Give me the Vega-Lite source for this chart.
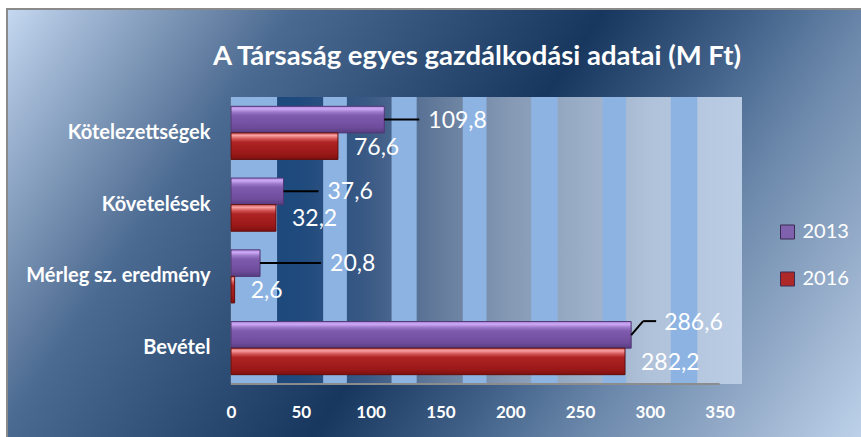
{
  "$schema": "https://vega.github.io/schema/vega-lite/v6.json",
  "width": 856,
  "height": 430,
  "autosize": {"type": "none"},
  "padding": {"left": 7, "top": 9, "right": 0, "bottom": 0},
  "background": "white",
  "config": {
    "locale": {"number": {"decimal": ",", "thousands": " ", "grouping": [3], "currency": ["", " Ft"]}},
    "axisX": {"domain": false, "ticks": false, "tickSize": 0, "grid": false, "labelPadding": 20, "labelFont": "Lato",
      "labelFontSize": 17, "labelFontWeight": "bold", "labelColor": "white", "labelFlush": false, "labelOverlap": false},
    "axisY": {"domain": true, "domainColor": "#8C8C8C", "domainWidth": 1.5, "ticks": false, "tickSize": 0, "grid": false,
      "labelPadding": 21, "labelFont": "Lato", "labelFontSize": 20, "labelFontWeight": "bold", "labelColor": "white", "labelLimit": 400}
  },
  "view": {
    "fill": {"gradient": "linear", "x1": 0, "y1": 0, "x2": 1.202, "y2": 0.414,
      "stops": [
        {"offset": 0, "color": "#C6D9F1"},
        {"offset": 0.054, "color": "#A8BEDA"},
        {"offset": 0.215, "color": "#5C789C"},
        {"offset": 0.25, "color": "#4A6A92"},
        {"offset": 0.52, "color": "#17375E"},
        {"offset": 0.644, "color": "#3F5F87"},
        {"offset": 0.75, "color": "#6A87AA"},
        {"offset": 0.857, "color": "#8EA6C4"},
        {"offset": 1, "color": "#BED2EA"}
      ]},
    "stroke": "#8A8A8A",
    "strokeWidth": 2
  },
  "title": {
    "text": "A Társaság egyes gazdálkodási adatai (M Ft)",
    "font": "Lato", "fontSize": 27.5, "fontWeight": "bold", "color": "white",
    "anchor": "middle", "frame": "group", "offset": -75, "dx": 42, "baseline": "middle"
  },
  "datasets": {
    "bars": [
      {"cat": "Kötelezettségek", "year": "2013", "v": 109.8},
      {"cat": "Kötelezettségek", "year": "2016", "v": 76.6},
      {"cat": "Követelések", "year": "2013", "v": 37.6},
      {"cat": "Követelések", "year": "2016", "v": 32.2},
      {"cat": "Mérleg sz. eredmény", "year": "2013", "v": 20.8},
      {"cat": "Mérleg sz. eredmény", "year": "2016", "v": 2.6},
      {"cat": "Bevétel", "year": "2013", "v": 286.6},
      {"cat": "Bevétel", "year": "2016", "v": 282.2}
    ],
    "stripes": [
      {"lo": 0, "hi": 33}, {"lo": 66, "hi": 83}, {"lo": 115, "hi": 133},
      {"lo": 166, "hi": 183}, {"lo": 215, "hi": 234}, {"lo": 266, "hi": 283},
      {"lo": 315, "hi": 334}
    ]
  },
  "layer": [
    {
      "layer": [
        {
          "data": {"values": [{"wall": "back"}]},
          "mark": {"type": "rect", "fill": {"gradient": "linear", "x1": 0, "y1": 0, "x2": 1, "y2": 0,
            "stops": [
              {"offset": 0, "color": "#1B467A"},
              {"offset": 0.135, "color": "#1F4A7D"},
              {"offset": 0.27, "color": "#3B5A85"},
              {"offset": 0.41, "color": "#657C9C"},
              {"offset": 0.545, "color": "#8599B5"},
              {"offset": 0.685, "color": "#9AADC6"},
              {"offset": 0.82, "color": "#B0C2D9"},
              {"offset": 1, "color": "#BACDE5"}
            ]}},
          "encoding": {
            "x": {"datum": 0, "type": "quantitative", "title": null,
              "scale": {"domain": [0, 366], "range": [224, 735], "nice": false, "zero": false},
              "axis": {"orient": "bottom", "offset": -55, "values": [0, 50, 100, 150, 200, 250, 300, 350], "title": null, "labelFlush": false}},
            "x2": {"datum": 366},
            "y": {"datum": 0, "type": "quantitative", "scale": {"domain": [0, 1], "range": [375, 88], "nice": false, "zero": false}, "axis": null},
            "y2": {"datum": 1}
          }
        },
        {
          "data": {"name": "stripes"},
          "mark": {"type": "rect", "fill": "#8DB3E2"},
          "encoding": {
            "x": {"field": "lo", "type": "quantitative", "title": null},
            "x2": {"field": "hi"},
            "y": {"datum": 0, "type": "quantitative", "axis": null},
            "y2": {"datum": 1}
          }
        },
        {
          "data": {"values": [{"wall": "floor"}]},
          "mark": {"type": "rule", "stroke": "#8C8C8C", "strokeWidth": 2},
          "encoding": {
            "x": {"datum": 0, "type": "quantitative", "title": null},
            "x2": {"datum": 350},
            "y": {"datum": 0, "type": "quantitative", "axis": null}
          }
        }
      ]
    },
    {
      "data": {"name": "bars"},
      "encoding": {
        "x": {"field": "v", "type": "quantitative", "title": null},
        "y": {"field": "cat", "type": "nominal",
          "sort": ["Kötelezettségek", "Követelések", "Mérleg sz. eredmény", "Bevétel"],
          "scale": {"range": [88, 375], "paddingInner": 0.26, "paddingOuter": 0.13},
          "axis": {"orient": "left", "offset": -224, "title": null}}
      },
      "layer": [
        {
          "mark": {"type": "bar", "strokeWidth": 1},
          "encoding": {
            "yOffset": {"field": "year", "type": "nominal", "scale": {"domain": ["2013", "2016"], "paddingInner": 0, "paddingOuter": 0}},
            "color": {"field": "year", "type": "nominal",
              "scale": {"domain": ["2013", "2016"], "range": ["#8061AE", "#AE2828"]},
              "legend": {"orient": "none", "legendX": 770.5, "legendY": 213, "title": null, "symbolType": "square",
                "symbolSize": 196, "labelFont": "Lato", "labelFontSize": 20, "labelColor": "white", "labelOffset": 5,
                "rowPadding": 27, "symbolStrokeWidth": 1, "symbolStrokeColor": "#3A2A50", "padding": 0}}
          }
        },
        {
          "transform": [{"filter": "datum.year == '2013'"}],
          "mark": {"type": "bar", "strokeWidth": 1, "stroke": "#4E3873",
            "fill": {"gradient": "linear", "x1": 0, "y1": 0, "x2": 0, "y2": 1, "stops": [
              {"offset": 0, "color": "#B08AE0"}, {"offset": 0.1, "color": "#CCA8F5"}, {"offset": 0.22, "color": "#9C78CA"},
              {"offset": 0.35, "color": "#7F5BAE"}, {"offset": 0.8, "color": "#6E4C9B"}, {"offset": 1, "color": "#573C80"}]}},
          "encoding": {"yOffset": {"field": "year", "type": "nominal"}}
        },
        {
          "transform": [{"filter": "datum.year == '2016'"}],
          "mark": {"type": "bar", "strokeWidth": 1, "stroke": "#621010",
            "fill": {"gradient": "linear", "x1": 0, "y1": 0, "x2": 0, "y2": 1, "stops": [
              {"offset": 0, "color": "#D45A5A"}, {"offset": 0.1, "color": "#F7A0A0"}, {"offset": 0.22, "color": "#D45555"},
              {"offset": 0.35, "color": "#AE2424"}, {"offset": 0.8, "color": "#9A1818"}, {"offset": 1, "color": "#7E1010"}]}},
          "encoding": {"yOffset": {"field": "year", "type": "nominal"}}
        },
        {
          "transform": [{"filter": "datum.year == '2013' && (datum.cat == 'Kötelezettségek' || datum.cat == 'Követelések')"}],
          "mark": {"type": "rule", "stroke": "black", "strokeWidth": 2, "x2Offset": 35},
          "encoding": {"x2": {"field": "v"}, "yOffset": {"field": "year", "type": "nominal"}}
        },
        {
          "transform": [{"filter": "datum.year == '2013' && datum.cat == 'Mérleg sz. eredmény'"}],
          "mark": {"type": "rule", "stroke": "black", "strokeWidth": 2, "x2Offset": 61},
          "encoding": {"x2": {"field": "v"}, "yOffset": {"field": "year", "type": "nominal"}}
        },
        {
          "transform": [{"filter": "datum.year == '2013' && datum.cat == 'Bevétel'"}],
          "mark": {"type": "rule", "stroke": "black", "strokeWidth": 2, "x2Offset": 12, "yOffset": -13, "y2Offset": -27},
          "encoding": {"x2": {"field": "v"}, "y2": {"field": "cat"}}
        },
        {
          "transform": [{"filter": "datum.year == '2013' && datum.cat == 'Bevétel'"}],
          "mark": {"type": "rule", "stroke": "black", "strokeWidth": 2, "xOffset": 12, "x2Offset": 25, "yOffset": -27},
          "encoding": {"x2": {"field": "v"}}
        },
        {
          "transform": [{"filter": "datum.year == '2016'"}],
          "mark": {"type": "text", "font": "Lato", "fontSize": 23, "color": "white", "align": "left", "baseline": "middle", "dx": 16, "dy": 1.5},
          "encoding": {"yOffset": {"field": "year", "type": "nominal"}, "text": {"field": "v", "type": "quantitative", "format": ".1f"}}
        },
        {
          "transform": [{"filter": "datum.year == '2013' && (datum.cat == 'Kötelezettségek' || datum.cat == 'Követelések')"}],
          "mark": {"type": "text", "font": "Lato", "fontSize": 23, "color": "white", "align": "left", "baseline": "middle", "dx": 44, "dy": 1},
          "encoding": {"yOffset": {"field": "year", "type": "nominal"}, "text": {"field": "v", "type": "quantitative", "format": ".1f"}}
        },
        {
          "transform": [{"filter": "datum.year == '2013' && datum.cat == 'Mérleg sz. eredmény'"}],
          "mark": {"type": "text", "font": "Lato", "fontSize": 23, "color": "white", "align": "left", "baseline": "middle", "dx": 70, "dy": 0.5},
          "encoding": {"yOffset": {"field": "year", "type": "nominal"}, "text": {"field": "v", "type": "quantitative", "format": ".1f"}}
        },
        {
          "transform": [{"filter": "datum.year == '2013' && datum.cat == 'Bevétel'"}],
          "mark": {"type": "text", "font": "Lato", "fontSize": 23, "color": "white", "align": "left", "baseline": "middle", "dx": 33, "dy": -12},
          "encoding": {"yOffset": {"field": "year", "type": "nominal"}, "text": {"field": "v", "type": "quantitative", "format": ".1f"}}
        }
      ]
    }
  ],
  "resolve": {"scale": {"y": "independent"}, "axis": {"y": "independent"}}
}
